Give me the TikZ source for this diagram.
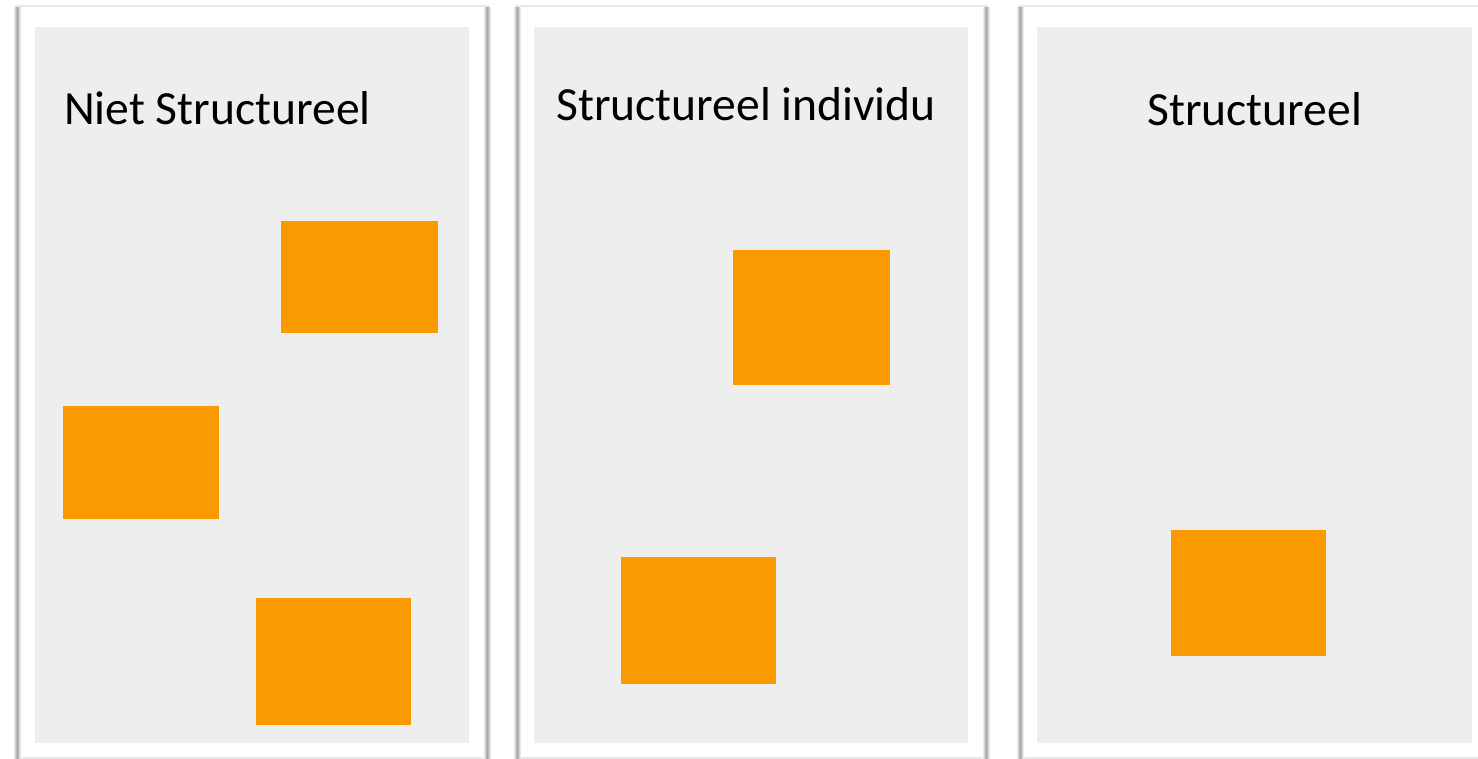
\documentclass[tikz,border=0pt]{standalone}
\usepackage{fontspec}
\setmainfont{Carlito}
\definecolor{boxorange}{RGB}{251,154,0}
\definecolor{panelgray}{RGB}{238,238,238}
\definecolor{edgegray}{RGB}{232,232,232}
\definecolor{shadowgray}{RGB}{165,165,165}
\tikzset{
  frame/.style={fill=white, draw=edgegray, line width=1.5pt},
  inner/.style={fill=panelgray},
  obox/.style={fill=boxorange},
  title/.style={anchor=base west, inner sep=0pt, font=\fontsize{47.6}{56}\selectfont, text=black},
}
\newcommand{\panelframe}[2]{%
  \path[frame] (#1,6) rectangle (#2,758);
  \shade[left color=white, right color=shadowgray] (#1-3,8) rectangle (#1+1,758);
  \shade[left color=shadowgray, right color=white] (#1+1,8) rectangle (#1+5,758);
  \shade[left color=white, right color=shadowgray] (#2-5,8) rectangle (#2-1,758);
  \shade[left color=shadowgray, right color=white] (#2-1,8) rectangle (#2+3,758);
}
\begin{document}
\begin{tikzpicture}[x=1pt,y=-1pt]
\useasboundingbox (0,0) rectangle (1478,759);
\fill[white] (0,0) rectangle (1478,759);
% frames
\panelframe{16}{488}
\panelframe{516}{987}
\path[frame] (1019,6) rectangle (1495,758);
\shade[left color=white, right color=shadowgray] (1016,8) rectangle (1020,758);
\shade[left color=shadowgray, right color=white] (1020,8) rectangle (1024,758);
% inner panels
\path[inner] (35,27) rectangle (469,743);
\path[inner] (534,27) rectangle (968,743);
\path[inner] (1037,27) rectangle (1472,743);
% titles
\node[title] (t1) at (64,125) {Niet Structureel};
\node[title] (t2) at (556,121) {Structureel individu};
\node[title] (t3) at (1147,126) {Structureel};
% orange boxes
\path[obox] (281,221) rectangle (438,333);
\path[obox] (63,406) rectangle (219,519);
\path[obox] (256,598) rectangle (411,725);
\path[obox] (733,250) rectangle (890,385);
\path[obox] (621,557) rectangle (776,684);
\path[obox] (1171,530) rectangle (1326,656);
\end{tikzpicture}
\end{document}
